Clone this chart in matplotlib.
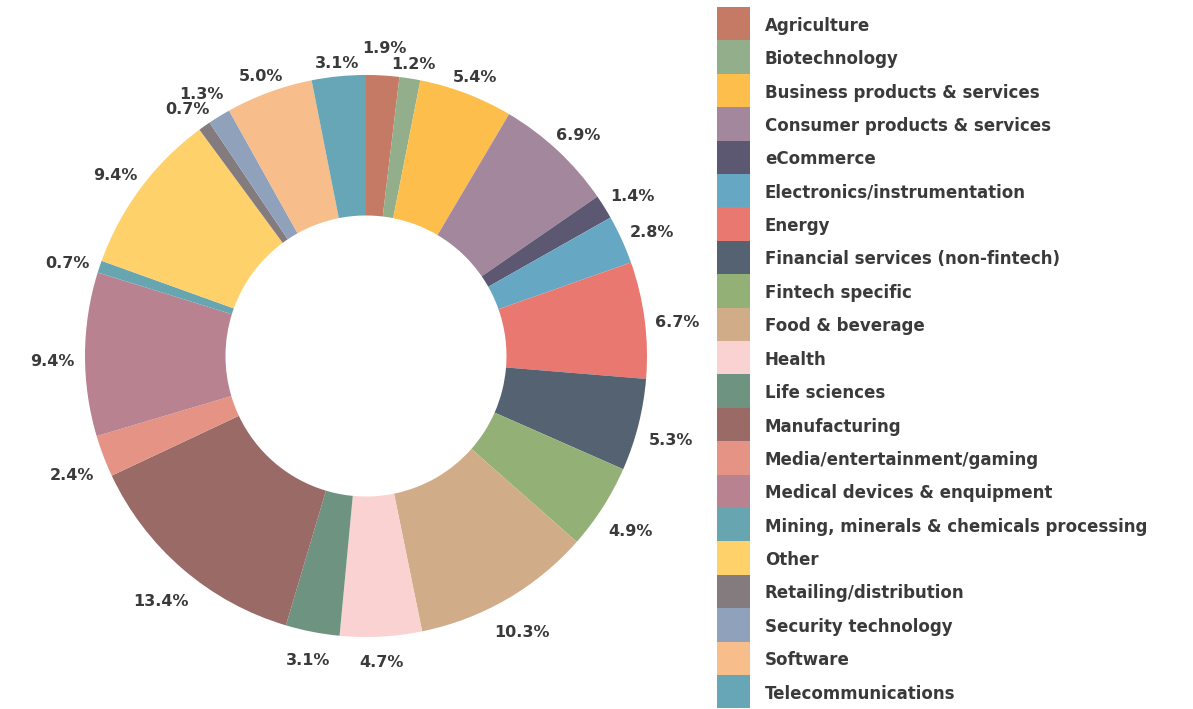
import numpy as np
import matplotlib
matplotlib.use("Agg")
import matplotlib.pyplot as plt
from matplotlib.patches import Rectangle

# Sector shares (%), clockwise from 12 o'clock
categories = [
    "Agriculture", "Biotechnology", "Business products & services",
    "Consumer products & services", "eCommerce", "Electronics/instrumentation",
    "Energy", "Financial services (non-fintech)", "Fintech specific",
    "Food & beverage", "Health", "Life sciences", "Manufacturing",
    "Media/entertainment/gaming", "Medical devices & enquipment",
    "Mining, minerals & chemicals processing", "Other",
    "Retailing/distribution", "Security technology", "Software",
    "Telecommunications",
]
shares = [1.9, 1.2, 5.4, 6.9, 1.4, 2.8, 6.7, 5.3, 4.9, 10.3, 4.7, 3.1, 13.4,
          2.4, 9.4, 0.7, 9.4, 0.7, 1.3, 5.0, 3.1]
colors = [
    "#C47A64", "#93AE8A", "#FDBE4B", "#A2879D", "#5C5872", "#66A8C4",
    "#E97870", "#546272", "#93B077", "#D1AC88", "#FBD2D2", "#6E9381",
    "#996A66", "#E49385", "#B98291", "#67A6B1", "#FED16A", "#847B7E",
    "#8FA1BB", "#F7BD8A", "#66A6B6",
]

W, H = 1193, 709
TEXT = "#3a3a3a"
FONT = "DejaVu Sans"
FS = 11.5

fig = plt.figure(figsize=(W / 100, H / 100), dpi=100)
ax = fig.add_axes([0, 0, 1, 1])

# donut, pixel coordinates (y up)
cx, cy, R = 366, 353, 281
wedges, _ = ax.pie(shares, colors=colors, startangle=90, counterclock=False,
                   radius=R, center=(cx, cy),
                   wedgeprops=dict(width=R * 0.5, edgecolor="none"))

ax.set_xlim(0, W)
ax.set_ylim(0, H)
ax.set_aspect("equal")
ax.axis("off")

renderer = fig.canvas.get_renderer()

# percentage labels just outside the ring
labels = []
for w, val in zip(wedges, shares):
    ang = np.deg2rad((w.theta1 + w.theta2) / 2)
    c, s = np.cos(ang), np.sin(ang)
    t = ax.text(0, 0, f"{val:.1f}%", ha="center", va="center",
                fontsize=FS, fontweight="bold", color=TEXT, family=FONT)
    bb = t.get_window_extent(renderer)
    r = R + 10 + abs(c) * bb.width / 2 + abs(s) * bb.height / 2
    labels.append([t, c, s, r, bb.width, bb.height, val])


def place(lab):
    t, c, s, r = lab[:4]
    t.set_position((cx + r * c, cy + r * s - 7))


def overlap(a, b):
    xa, ya = a[0].get_position()
    xb, yb = b[0].get_position()
    return (abs(xa - xb) < (a[4] + b[4]) / 2 + 2
            and abs(ya - yb) < (a[5] + b[5]) / 2)


for lab in labels:
    place(lab)

# push crowded neighbours outward
for _ in range(60):
    moved = False
    n = len(labels)
    for i in range(n):
        a, b = labels[i], labels[(i + 1) % n]
        if overlap(a, b):
            big = a if a[6] >= b[6] else b
            big[3] += 3
            place(big)
            moved = True
    if not moved:
        break

# legend as a stacked colour bar with labels
top, row = 7, 33.4
for i, (name, col) in enumerate(zip(categories, colors)):
    y0 = H - top - (i + 1) * row
    ax.add_patch(Rectangle((717, y0), 33, row, facecolor=col,
                           edgecolor="none"))
    ax.text(765, y0 + row / 2 - 2, name, ha="left", va="center",
            fontsize=12, fontweight="bold", color=TEXT, family=FONT)

fig.savefig("out.png", dpi=100, facecolor="white")
